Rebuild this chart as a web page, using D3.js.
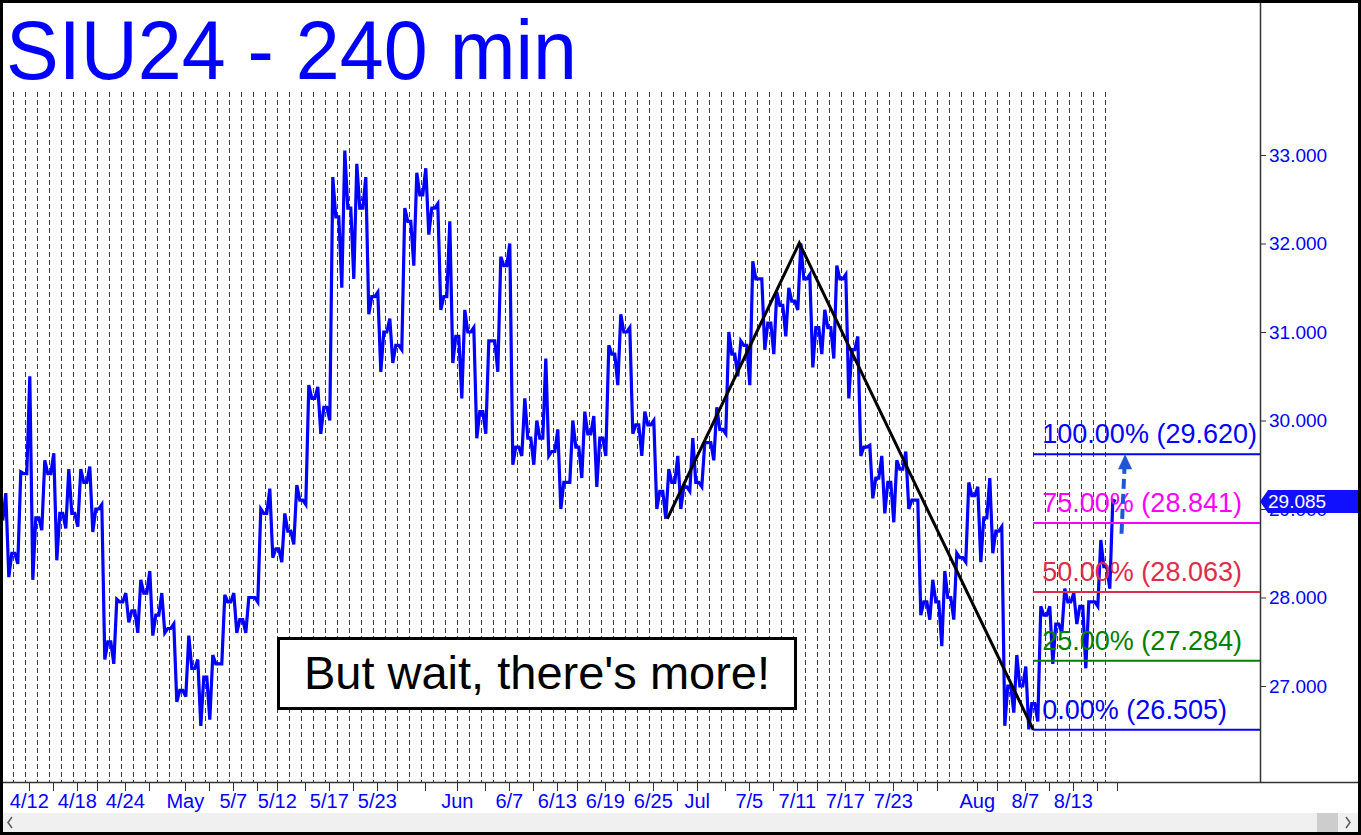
<!DOCTYPE html>
<html>
<head>
<meta charset="utf-8">
<script src="https://cdnjs.cloudflare.com/ajax/libs/d3/7.8.5/d3.min.js"></script>
<style>
  body { margin: 0; background: #fff; }
  svg { display: block; font-family: Arial, "Liberation Sans", sans-serif; }
</style>
</head>
<body>
<div id="chart"></div>
<script>
// trading sessions (M/D, 2024)
const days = [
  "4/10","4/11","4/12","4/15","4/16","4/17","4/18","4/19","4/22","4/23","4/24","4/25","4/26","4/29","4/30",
  "5/1","5/2","5/3","5/6","5/7","5/8","5/9","5/10","5/13","5/14","5/15","5/16","5/17","5/20","5/21","5/22","5/23","5/24","5/27","5/28","5/29","5/30","5/31",
  "6/3","6/4","6/5","6/6","6/7","6/10","6/11","6/12","6/13","6/14","6/17","6/18","6/19","6/20","6/21","6/24","6/25","6/26","6/27","6/28",
  "7/1","7/2","7/3","7/4","7/5","7/8","7/9","7/10","7/11","7/12","7/15","7/16","7/17","7/18","7/19","7/22","7/23","7/24","7/25","7/26","7/29","7/30","7/31",
  "8/1","8/2","8/5","8/6","8/7","8/8","8/9","8/12","8/13","8/14","8/15","8/16"
];

const open = [
  28.87, 28.50, 29.40, 28.90, 29.40, 28.95, 28.95, 29.30, 29.00, 27.50,
  27.95, 27.85, 28.05, 27.80, 27.65, 26.95, 27.20, 27.10, 27.25, 27.95,
  27.75, 28.00, 28.95, 28.55, 28.75, 29.10, 30.25, 30.15, 32.30, 32.40,
  32.40, 31.40, 31.00, 30.85, 32.25, 32.55, 32.40, 31.40, 30.95, 31.00,
  30.10, 30.90, 31.75, 29.70, 29.80, 29.80, 29.65, 29.30, 29.70, 29.85,
  29.80, 30.75, 31.00, 29.95, 29.95, 29.20, 29.30, 29.25, 29.30, 29.75,
  29.90, 30.75, 30.85, 31.60, 31.10, 31.30, 31.35, 31.60, 31.05, 31.05,
  31.60, 30.80, 29.70, 29.35, 29.30, 29.45, 29.10, 27.95, 27.95, 28.00,
  28.45, 29.15, 28.90, 28.75, 27.00, 27.00, 26.80, 27.80, 27.70, 27.95,
  27.90, 27.95, 28.35
];
const high = [
  29.18, 29.42, 30.50, 29.55, 29.63, 29.45, 29.45, 29.48, 29.05, 27.98,
  28.05, 28.20, 28.30, 28.05, 27.70, 27.57, 27.30, 27.35, 28.03, 28.05,
  28.00, 29.00, 29.23, 28.95, 29.27, 30.40, 30.38, 32.75, 33.05, 32.90,
  32.75, 31.45, 31.15, 32.40, 32.80, 32.85, 32.45, 32.25, 31.25, 31.05,
  30.90, 31.85, 32.00, 30.25, 30.00, 30.70, 29.90, 30.00, 30.10, 30.05,
  30.85, 31.20, 31.05, 30.10, 30.00, 29.45, 29.60, 29.80, 29.75, 30.15,
  31.00, 30.90, 31.80, 31.60, 31.45, 31.50, 32.00, 31.65, 31.25, 31.75,
  31.65, 30.95, 29.72, 29.60, 29.55, 29.65, 29.10, 28.20, 28.30, 28.50,
  29.30, 29.25, 29.35, 28.80, 27.35, 27.22, 27.90, 27.90, 28.10, 28.05,
  27.95, 28.65, 29.10
];
const low = [
  28.23, 28.38, 28.20, 28.76, 28.42, 28.78, 28.80, 28.74, 27.30, 27.25,
  27.72, 27.60, 27.57, 27.60, 26.82, 26.88, 26.55, 26.62, 27.25, 27.60,
  27.60, 27.95, 28.45, 28.40, 28.60, 29.05, 29.85, 30.00, 31.50, 31.60,
  31.20, 30.55, 30.65, 30.80, 31.75, 32.10, 31.25, 30.65, 30.25, 29.80,
  29.85, 30.55, 29.50, 29.60, 29.50, 29.60, 29.00, 29.30, 29.35, 29.25,
  29.60, 30.40, 29.85, 29.60, 29.00, 28.89, 29.00, 29.20, 29.25, 29.55,
  29.85, 30.50, 30.40, 30.80, 30.75, 30.95, 31.25, 30.60, 30.75, 30.70,
  30.25, 29.60, 29.12, 28.95, 28.85, 29.00, 27.80, 27.75, 27.45, 27.75,
  28.40, 28.40, 28.50, 26.55, 26.70, 26.51, 26.60, 27.25, 27.60, 27.70,
  27.20, 27.90, 28.10
];
const close = [
  28.50, 29.40, 28.90, 29.40, 28.95, 28.95, 29.30, 29.00, 27.50, 27.95,
  27.85, 28.05, 27.80, 27.65, 26.95, 27.20, 27.10, 27.25, 27.95, 27.75,
  28.00, 28.95, 28.55, 28.75, 29.10, 30.25, 30.15, 32.30, 32.40, 32.40,
  31.40, 31.00, 30.85, 32.25, 32.55, 32.40, 31.40, 30.95, 31.00, 30.10,
  30.90, 31.75, 29.70, 29.80, 29.80, 29.65, 29.30, 29.70, 29.85, 29.80,
  30.75, 31.00, 29.95, 29.95, 29.20, 29.30, 29.25, 29.30, 29.75, 29.90,
  30.75, 30.85, 31.60, 31.10, 31.30, 31.35, 31.60, 31.05, 31.05, 31.60,
  30.80, 29.70, 29.35, 29.30, 29.45, 29.10, 27.95, 27.95, 28.00, 28.45,
  29.15, 28.90, 28.75, 27.00, 27.00, 26.80, 27.80, 27.70, 27.95, 27.90,
  27.95, 28.35, 29.085
];

// axis ticks and labels
const tickDays = ["4/12","4/16","4/18","4/22","4/24","4/26","5/1","5/3","5/7","5/9","5/13","5/15","5/17","5/21","5/23","5/27","5/29",
  "6/3","6/5","6/7","6/11","6/13","6/17","6/19","6/21","6/25","6/27","7/1","7/3","7/5","7/9","7/11","7/15","7/17","7/19","7/23","7/25","7/29",
  "8/1","8/5","8/7","8/9","8/13","8/15","8/19"];
const labelDays = ["4/12","4/18","4/24","5/1","5/7","5/13","5/17","5/23","6/3","6/7","6/13","6/19","6/25","7/1","7/5","7/11","7/17","7/23","8/1","8/7","8/13"];
const labelText = ["4/12","4/18","4/24","May","5/7","5/12","5/17","5/23","Jun","6/7","6/13","6/19","6/25","Jul","7/5","7/11","7/17","7/23","Aug","8/7","8/13"];
const priceTicks = [27, 28, 29, 30, 31, 32, 33];

// ABC swing (session, fraction of session, price)
const pivotDays = ["6/26", "7/11", "8/8"];
const pivotFrac = [0.5, 0.5, 0];
const pivotPrice = [28.89, 32.005, 26.505];

// retracement / target levels
const fibPct = ["0.00%", "25.00%", "50.00%", "75.00%", "100.00%"];
const fibPrice = [26.505, 27.284, 28.063, 28.841, 29.620];
const fibColor = ["#0000ff", "#008000", "#dc2d4b", "#ff00ff", "#0000ff"];

// projected move: [session index past the data, price]
const arrowFrom = [93.35, 28.72];
const arrowTo = [93.65, 29.62];

const [svgWidth, svgHeight] = [1361, 835];
const plotRight = 1260, plotBottom = 782, gridTop = 92;

const svg = d3.select('#chart').append('svg')
  .attr('width', svgWidth)
  .attr('height', svgHeight);

svg.append('rect').attr('width', svgWidth).attr('height', svgHeight).attr('fill', '#fff');

const x = d3.scaleLinear().domain([0, days.length]).range([1.3, 1.3 + 12 * days.length]);
const y = d3.scaleLinear().domain([27, 33]).range([686, 155]);
const dayIndex = d => { const i = days.indexOf(d); return i < 0 ? days.length : i; };
const isMonday = d => { const [m, dd] = d.split('/').map(Number); return new Date(2024, m - 1, dd).getDay() === 1; };

// day grid
svg.append('g').selectAll('line')
  .data(d3.range(1, days.length))
  .enter().append('line')
  .attr('x1', i => Math.round(x(i)) + 0.5).attr('x2', i => Math.round(x(i)) + 0.5)
  .attr('y1', gridTop).attr('y2', plotBottom)
  .attr('stroke', '#3a3a3a').attr('stroke-width', 1)
  .attr('stroke-dasharray', '5,3');

// frame lines
svg.append('line').attr('x1', plotRight + 0.5).attr('x2', plotRight + 0.5).attr('y1', 0).attr('y2', plotBottom)
  .attr('stroke', '#333').attr('stroke-width', 1.5);
svg.append('line').attr('x1', 0).attr('x2', svgWidth).attr('y1', plotBottom + 0.5).attr('y2', plotBottom + 0.5)
  .attr('stroke', '#333').attr('stroke-width', 1.5);

// price path (open -> extremes -> close per session)
let pts = [];
days.forEach((d, i) => {
  const seq = close[i] >= open[i]
    ? [open[i], low[i], high[i], close[i]]
    : [open[i], high[i], low[i], close[i]];
  seq.forEach((v, j) => pts.push([x(i + (j * 3 + 1.5) / 12), y(v)]));
});
svg.append('path')
  .datum(pts)
  .attr('d', d3.line())
  .attr('fill', 'none')
  .attr('stroke', '#0000ff')
  .attr('stroke-width', 3.2)
  .attr('stroke-linejoin', 'miter');

// fib levels
const fibX = x(dayIndex(pivotDays[2]) + pivotFrac[2]);
const fib = svg.append('g');
fibPrice.forEach((p, i) => {
  fib.append('line')
    .attr('x1', fibX).attr('x2', plotRight)
    .attr('y1', y(p)).attr('y2', y(p))
    .attr('stroke', fibColor[i]).attr('stroke-width', 2);
  fib.append('text')
    .attr('x', fibX + 9).attr('y', y(p) - 11)
    .attr('fill', fibColor[i]).attr('font-size', 27)
    .text(fibPct[i] + ' (' + p.toFixed(3) + ')');
});

// ABC lines
svg.append('path')
  .datum(pivotDays.map((d, i) => [x(dayIndex(d) + pivotFrac[i]), y(pivotPrice[i])]))
  .attr('d', d3.line())
  .attr('fill', 'none').attr('stroke', '#000').attr('stroke-width', 3);

// projection arrow
const ax0 = x(arrowFrom[0]), ay0 = y(arrowFrom[1]);
const ax1 = x(arrowTo[0]), ay1 = y(arrowTo[1]);
svg.append('line')
  .attr('x1', ax0).attr('y1', ay0).attr('x2', ax0 + (ax1 - ax0) * 0.82).attr('y2', ay0 + (ay1 - ay0) * 0.82)
  .attr('stroke', '#1f55d8').attr('stroke-width', 4).attr('stroke-dasharray', '10,5');
svg.append('path')
  .attr('d', `M${ax1},${ay1} L${ax1 - 7},${ay1 + 15} L${ax1 + 7},${ay1 + 15} Z`)
  .attr('fill', '#1f55d8');

// right price axis
const yAxis = svg.append('g')
  .attr('transform', `translate(${plotRight},0)`)
  .call(d3.axisRight(y).tickValues(priceTicks).tickFormat(d3.format('.3f')).tickSize(6).tickPadding(3));
yAxis.select('.domain').remove();
yAxis.selectAll('line').attr('stroke', '#333');
yAxis.selectAll('text').attr('fill', '#0000ff').attr('font-size', 19).attr('font-family', 'Arial, "Liberation Sans", sans-serif');

// last price marker (drawn over the axis label it sits on, as in the source chart)
const last = close[close.length - 1];
const ly = y(last);
svg.append('path')
  .attr('d', `M${plotRight},${ly} L${plotRight + 8},${ly - 11.5} L1358,${ly - 11.5} L1358,${ly + 11.5} L${plotRight + 8},${ly + 11.5} Z`)
  .attr('fill', '#1010ff');
svg.append('text')
  .attr('x', plotRight + 8).attr('y', ly + 7)
  .attr('fill', '#fff').attr('font-size', 19)
  .text(last.toFixed(3));

// bottom axis
const tickX = d => x(dayIndex(d)) + (isMonday(d) ? 0 : 4);
svg.append('g').selectAll('line')
  .data(tickDays)
  .enter().append('line')
  .attr('x1', d => Math.round(tickX(d)) + 0.5).attr('x2', d => Math.round(tickX(d)) + 0.5)
  .attr('y1', plotBottom).attr('y2', plotBottom + 9)
  .attr('stroke', '#333');
svg.append('g').selectAll('text')
  .data(labelDays)
  .enter().append('text')
  .attr('x', d => tickX(d)).attr('y', 808)
  .attr('text-anchor', 'middle')
  .attr('fill', '#0000ff').attr('font-size', 20)
  .text((d, i) => labelText[i]);

// annotation box
svg.append('rect')
  .attr('x', 278.5).attr('y', 638.5).attr('width', 517).attr('height', 70)
  .attr('fill', '#fff').attr('stroke', '#000').attr('stroke-width', 3);
svg.append('text')
  .attr('x', 537).attr('y', 689)
  .attr('text-anchor', 'middle')
  .attr('font-size', 47).attr('fill', '#000')
  .text("But wait, there's more!");

// title
svg.append('text')
  .attr('x', 6).attr('y', 79)
  .attr('fill', '#0000ff').attr('font-size', 84)
  .attr('textLength', 571).attr('lengthAdjust', 'spacingAndGlyphs')
  .text('SIU24 - 240 min');

// scrollbar
svg.append('rect').attr('x', 0).attr('y', 813).attr('width', svgWidth).attr('height', 20).attr('fill', '#f0f0f0');
svg.append('rect').attr('x', 1317).attr('y', 813).attr('width', 21).attr('height', 19).attr('fill', '#cdcdcd');
svg.append('path').attr('d', 'M12,817 L8,822.5 L12,828').attr('fill', 'none').attr('stroke', '#606060').attr('stroke-width', 1.6);
svg.append('path').attr('d', 'M1346,817 L1350,822.5 L1346,828').attr('fill', 'none').attr('stroke', '#606060').attr('stroke-width', 1.6);

// outer border
svg.append('rect')
  .attr('x', 1.5).attr('y', 1.5).attr('width', svgWidth - 3).attr('height', svgHeight - 3)
  .attr('fill', 'none').attr('stroke', '#000').attr('stroke-width', 3);
</script>
</body>
</html>
